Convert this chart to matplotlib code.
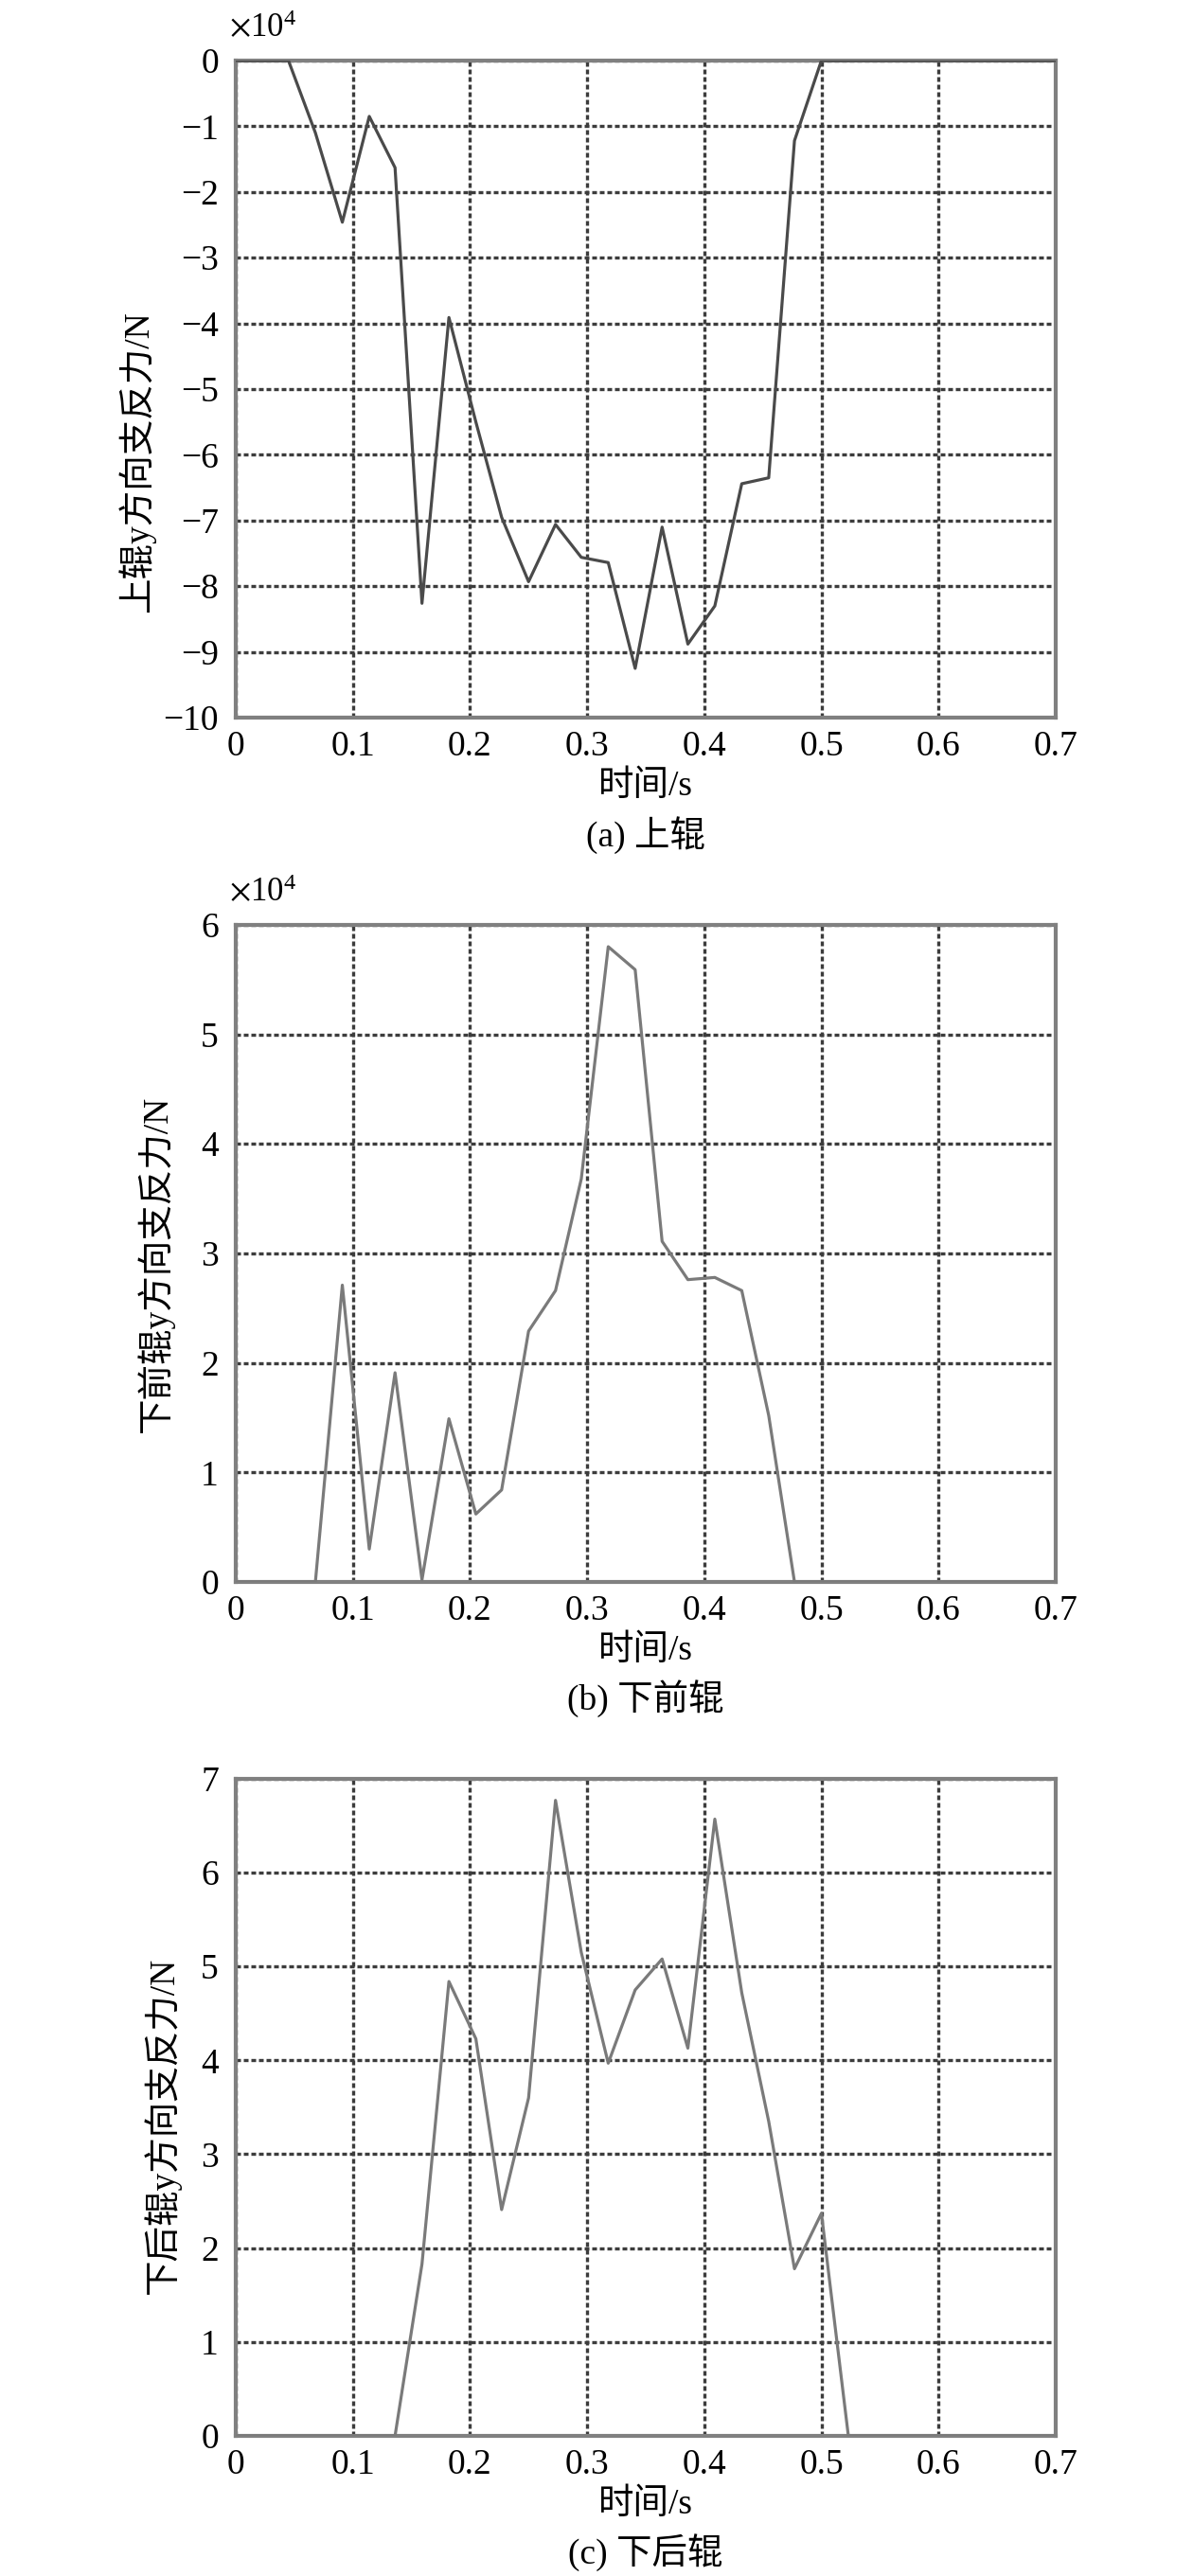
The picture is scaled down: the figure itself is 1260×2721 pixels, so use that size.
import numpy as np
import matplotlib
matplotlib.use('Agg')
import matplotlib.pyplot as plt

plt.rcParams['font.family'] = ['Liberation Serif', 'Noto Sans CJK SC']
plt.rcParams['mathtext.fontset'] = 'stix'

# time, s
t = [0, 0.023, 0.045, 0.068, 0.091, 0.114, 0.136, 0.159, 0.182, 0.205,
     0.227, 0.250, 0.273, 0.295, 0.318, 0.341, 0.364, 0.386, 0.409, 0.432,
     0.455, 0.477, 0.500, 0.523, 0.545, 0.568, 0.591, 0.614, 0.636, 0.659,
     0.682, 0.700]

# upper roll, x1e4 N
f_upper = [0, 0, 0, -1.1, -2.46, -0.85, -1.63, -8.26, -3.91, -5.5,
           -6.95, -7.93, -7.06, -7.56, -7.64, -9.25, -7.1, -8.88, -8.3, -6.44,
           -6.35, -1.22, 0, 0, 0, 0, 0, 0, 0, 0,
           0, 0]
# lower front roll, x1e4 N
f_front = [0, 0, 0, 0, 2.71, 0.30, 1.91, 0.02, 1.49, 0.62,
           0.84, 2.29, 2.66, 3.68, 5.80, 5.59, 3.11, 2.76, 2.78, 2.66,
           1.52, 0, 0, 0, 0, 0, 0, 0, 0, 0,
           0, 0]
# lower rear roll
f_rear = [0, 0, 0, 0, 0, 0, 0, 1.83, 4.84, 4.23,
          2.41, 3.6, 6.77, 5.15, 3.97, 4.75, 5.08, 4.13, 6.57, 4.72,
          3.35, 1.78, 2.37, 0, 0, 0, 0, 0, 0, 0,
          0, 0]

xticks = [0, 0.1, 0.2, 0.3, 0.4, 0.5, 0.6, 0.7]
xticklabels = ['0', '0.1', '0.2', '0.3', '0.4', '0.5', '0.6', '0.7']

panels = [
    (f_upper, (-10, 0), list(range(-10, 1)), '上辊y方向支反力/N', '(a) 上辊', True, '#4a4a4a'),
    (f_front, (0, 6), list(range(0, 7)), '下前辊y方向支反力/N', '(b) 下前辊', True, '#7a7a7a'),
    (f_rear, (0, 7), list(range(0, 8)), '下后辊y方向支反力/N', '(c) 下后辊', False, '#7a7a7a'),
]
bottoms = [0.7214, 0.3859, 0.0544]
ylab_pos = [(-0.121, 0.39), (-0.098, 0.484), (-0.09, 0.473)]

fig = plt.figure(figsize=(12.6, 27.21), dpi=100)
for (vals, ylim, yticks, ylab, cap, mult, col), b, lp in zip(panels, bottoms, ylab_pos):
    ax = fig.add_axes([0.1976, b, 0.6873, 0.2551])
    ax.plot(t, vals, color=col, lw=2.3, zorder=3)
    ax.set_xlim(0, 0.7)
    ax.set_ylim(*ylim)
    ax.set_xticks(xticks)
    ax.set_xticklabels(xticklabels)
    ax.set_yticks(yticks)
    ax.grid(True, color='#3c3c3c', linestyle=(0, (1.5, 0.9)), linewidth=2.4)
    ax.tick_params(length=0, labelsize=27)
    ax.tick_params(axis='y', pad=13)
    ax.tick_params(axis='x', pad=10)
    for s in ax.spines.values():
        s.set_color('#808080')
        s.set_linewidth(3)
    ax.set_xlabel('时间/s', fontsize=27)
    ax.xaxis.set_label_coords(0.5, -0.105)
    ax.xaxis.label.set_va('center')
    ax.set_ylabel(ylab, fontsize=27)
    ax.yaxis.set_label_coords(*lp)
    ax.yaxis.label.set_va('center')
    ax.text(0.5, -0.178, cap, transform=ax.transAxes, ha='center', va='center', fontsize=27)
    if mult:
        ax.text(-0.008, 1.048, r'$\times\mathregular{10^4}$', transform=ax.transAxes,
                ha='left', va='center', fontsize=25)

fig.savefig('out.png', dpi=100)
